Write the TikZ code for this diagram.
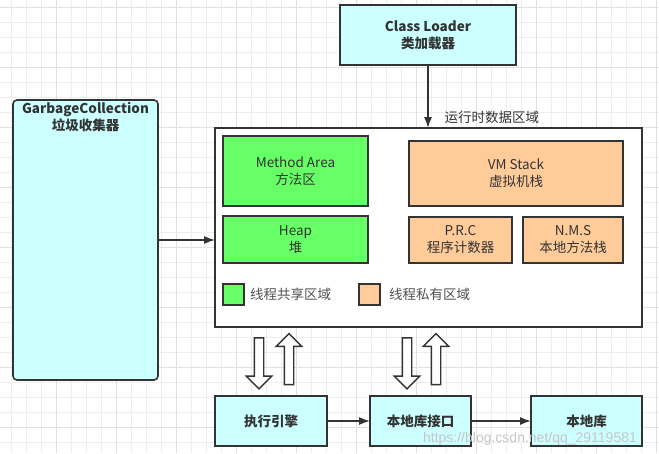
\documentclass[tikz,border=0pt]{standalone}
\usepackage{fontspec}
\setmainfont{Noto Sans CJK SC}
\newfontfamily\markfont{Liberation Sans}
\usepackage{tikz}
\usetikzlibrary{shapes.arrows, arrows.meta}
\usetikzlibrary{positioning}

\definecolor{ink}{HTML}{333333}
\definecolor{softink}{HTML}{505050}
\definecolor{cyanfill}{HTML}{CCFFFF}
\definecolor{greenfill}{HTML}{66FF66}
\definecolor{orangefill}{HTML}{FFCC99}
\definecolor{gridthin}{HTML}{EEEEEE}
\definecolor{gridthick}{HTML}{E0E0E0}

\begin{document}
\begin{tikzpicture}[x=1pt, y=-1pt, node distance=10pt and 11pt, every node/.style={font=\fontsize{13.5}{17}\selectfont, text=ink, outer sep=0pt}]
\tikzstyle{plainbox} = [rectangle, draw=ink, line width=1.6pt, align=center, inner sep=0pt]
\tikzstyle{cyanbox} = [plainbox, fill=cyanfill, font=\fontsize{13.5}{17}\selectfont\bfseries]
\tikzstyle{greenbox} = [plainbox, fill=greenfill]
\tikzstyle{orangebox} = [plainbox, fill=orangefill]
\tikzstyle{legendtext} = [inner sep=0pt, text=softink]
\tikzstyle{arrow} = [line width=1.4pt, draw=ink, -{Latex[length=11pt, width=8pt]}]
\tikzstyle{blockarrow} = [single arrow, draw=ink, fill=white, line width=1.4pt, minimum width=24pt, minimum height=51pt, single arrow head extend=8pt, inner sep=4pt]

% Background grid
\useasboundingbox (0,0) rectangle (659,453);
\fill[white] (0,0) rectangle (659,453);
\foreach \x in {11,26,...,656} \draw[gridthin, line width=0.9pt] (\x,0) -- (\x,453);
\foreach \y in {7,22,...,452} \draw[gridthin, line width=0.9pt] (0,\y) -- (659,\y);
\foreach \x in {56,116,...,656} \draw[gridthick, line width=0.9pt] (\x,0) -- (\x,453);
\foreach \y in {7,67,...,452} \draw[gridthick, line width=0.9pt] (0,\y) -- (659,\y);

% Nodes
\node (loader) [cyanbox, minimum width=176pt, minimum height=60pt] at (428,35) {Class Loader\\类加载器};
\node (runtime) [plainbox, fill=white, minimum width=427pt, minimum height=199pt] at (428.5,227.5) {};
\node (rtlabel) [above right=4pt and 16pt of runtime.north, inner sep=0pt] {运行时数据区域};
\node (gc) [cyanbox, rounded corners=4pt, minimum width=145pt, minimum height=280pt] at (85.5,240) {};
\node (gctext) [below=2pt of gc.north, align=center, inner sep=0pt, font=\fontsize{13.5}{17}\selectfont\bfseries] {GarbageCollection\\垃圾收集器};

\node (method) [greenbox, minimum width=145pt, minimum height=70pt, below right=8pt and 8pt of runtime.north west] {Method Area\\方法区};
\node (heap) [greenbox, minimum width=145pt, minimum height=47pt, below=10pt of method] {Heap\\堆};
\node (vmstack) [orangebox, minimum width=214pt, minimum height=65pt, below left=13pt and 19pt of runtime.north east] {VM Stack\\虚拟机栈};
\node (prc) [orangebox, minimum width=103pt, minimum height=46pt, below right=11pt and 0pt of vmstack.south west] {P.R.C\\程序计数器};
\node (nms) [orangebox, minimum width=100pt, minimum height=46pt, below left=11pt and 0pt of vmstack.south east] {N.M.S\\本地方法栈};

\node (shared) [greenbox, minimum size=21pt, below right=21pt and 0pt of heap.south west] {};
\node (sharedtext) [legendtext, right=6pt of shared] {线程共享区域};
\node (private) [orangebox, minimum size=21pt, right=115pt of shared] {};
\node (privatetext) [legendtext, right=9pt of private] {线程私有区域};

\node (engine) [cyanbox, minimum width=112pt, minimum height=50pt, below right=69pt and 0pt of runtime.south west] {执行引擎};
\node (nif) [cyanbox, minimum width=101pt, minimum height=50pt, right=43pt of engine] {本地库接口};
\node (nlib) [cyanbox, minimum width=111pt, minimum height=50pt, right=60pt of nif] {本地库};

\node (down1) [blockarrow, shape border rotate=270] at (259,361) {};
\node (up1) [blockarrow, shape border rotate=90] at (289,361.5) {};
\node (down2) [blockarrow, shape border rotate=270] at (407,361) {};
\node (up2) [blockarrow, shape border rotate=90] at (436,361.5) {};

\node (mark) [text=gray!45, font=\markfont\fontsize{14}{16}\selectfont] at (530,439) {https://blog.csdn.net/qq\_29119581};

% Arrows
\draw [arrow] (loader.south) -- (loader.south |- runtime.north);
\draw [arrow] (gc.east) -- (gc.east -| runtime.west);
\draw [arrow] (engine.east) -- (nif.west);
\draw [arrow] (nif.east) -- (nlib.west);

\end{tikzpicture}
\end{document}
